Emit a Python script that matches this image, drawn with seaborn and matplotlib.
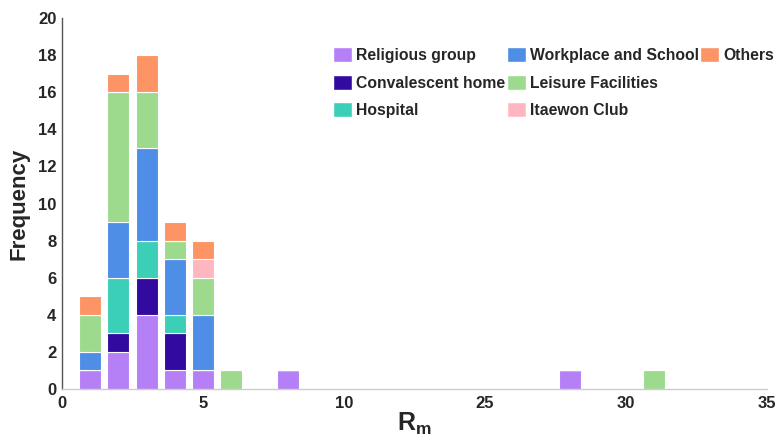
import numpy as np
import pandas as pd
import seaborn as sns
import matplotlib
matplotlib.use("Agg")
import matplotlib.pyplot as plt
from matplotlib.patches import Patch

# Cluster settings (stacking order, bottom to top) and their colours
settings = ["Religious group", "Convalescent home", "Hospital",
            "Workplace and School", "Leisure Facilities", "Itaewon Club", "Others"]
colors = ["#B580F5", "#330AA0", "#3CCFB8", "#4E8EE6", "#9DDA8E", "#FFB6C1", "#FC9466"]

# R_m values (histogram bins) and counts per setting
rm_values = [1, 2, 3, 4, 5, 6, 8, 28, 31]
religious = [1, 2, 4, 1, 1, 0, 1, 1, 0]
convalescent = [0, 1, 2, 2, 0, 0, 0, 0, 0]
hospital = [0, 3, 2, 1, 0, 0, 0, 0, 0]
workplace = [1, 3, 5, 3, 3, 0, 0, 0, 0]
leisure = [2, 7, 3, 1, 2, 1, 0, 0, 1]
itaewon = [0, 0, 0, 0, 1, 0, 0, 0, 0]
others = [1, 1, 2, 1, 1, 0, 0, 0, 0]
counts = [religious, convalescent, hospital, workplace, leisure, itaewon, others]

# Axis is broken between 10 and 25
xtick_labels = [0, 5, 10, 25, 30, 35]
BREAK_LO, BREAK_HI = 10, 25


def to_axis(v):
    v = np.asarray(v, dtype=float)
    return np.where(v > BREAK_LO, v - (BREAK_HI - BREAK_LO - 5), v)


rows = []
for name, vals in zip(settings, counts):
    for rm, c in zip(rm_values, vals):
        rows.append({"pos": float(to_axis(rm)), "setting": name, "count": c})
df = pd.DataFrame(rows)

sns.set_theme(style="white")
plt.rcParams["font.family"] = ["Liberation Sans", "DejaVu Sans"]
plt.rcParams["mathtext.fontset"] = "custom"
plt.rcParams["mathtext.bf"] = "Liberation Sans:bold"
plt.rcParams["mathtext.rm"] = "Liberation Sans:bold"

fig = plt.figure(figsize=(7.76, 4.40), dpi=100)
ax = fig.add_axes([62 / 776, 1 - 389 / 440, (767 - 62) / 776, (389 - 18) / 440])

palette = dict(zip(settings, colors))
sns.histplot(data=df, x="pos", weights="count", hue="setting",
             hue_order=settings[::-1], palette=palette, multiple="stack",
             discrete=True, shrink=0.78, alpha=1, edgecolor="white",
             linewidth=0.8, legend=False, ax=ax)

ax.set_xlim(0, 25)
ax.set_ylim(0, 20)
ax.set_xticks(to_axis(xtick_labels))
ax.set_xticklabels([str(v) for v in xtick_labels])
ax.set_yticks(np.arange(0, 21, 2))
for lab in ax.get_xticklabels() + ax.get_yticklabels():
    lab.set_fontweight("bold")
    lab.set_fontsize(12)
    lab.set_color("#262626")

ax.tick_params(axis="both", direction="in", length=4, width=0.8, color="#555555")
ax.tick_params(axis="y", pad=4)
ax.tick_params(axis="x", pad=5)
for side in ["top", "right"]:
    ax.spines[side].set_visible(False)
ax.spines["left"].set_color("#555555")
ax.spines["left"].set_linewidth(1.0)
ax.spines["bottom"].set_color("#cccccc")
ax.spines["bottom"].set_linewidth(1.0)

ax.set_ylabel("Frequency", fontsize=16, fontweight="bold", color="#262626", labelpad=6)
ax.set_xlabel(r"$\mathbf{R_m}$", fontsize=18, color="#262626", labelpad=0)

# Legend: three columns filled top-to-bottom, last column holds one entry
handles = [Patch(facecolor=c, edgecolor="white") for c in colors]
labels = list(settings)
blank = Patch(facecolor="none", edgecolor="none")
handles += [blank, blank]
labels += ["", ""]
fig.legend(handles, labels, ncol=3, loc="upper left",
           bbox_to_anchor=(333 / 776, 1 - 47 / 440), frameon=False,
           prop={"weight": "bold", "size": 11.3}, handlelength=1.2,
           handleheight=1.1, handletextpad=0.25, columnspacing=0.12,
           labelspacing=0.75, borderpad=0, borderaxespad=0)

fig.savefig("out.png", dpi=100)
